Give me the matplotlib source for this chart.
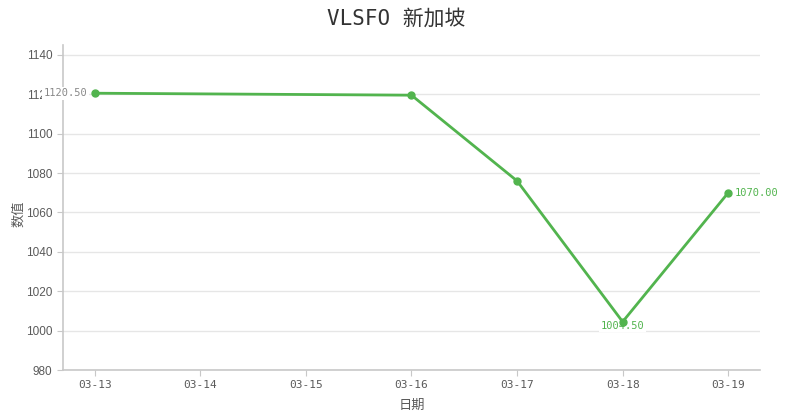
import matplotlib
matplotlib.use("Agg")
from matplotlib import pyplot as plt

# 数据
dates = ["03-13", "03-14", "03-15", "03-16", "03-17", "03-18", "03-19"]
prices = [1120.50, None, None, 1119.50, 1076.00, 1004.50, 1070.00]
title = "VLSFO 新加坡"

mono_cjk = ["DejaVu Sans Mono", "Noto Sans CJK SC"]
green = "#52b44e"
axis_gray = "#c8c8c8"
text_gray = "#5a5a5a"

fig = plt.figure(figsize=(7.92, 4.2), dpi=100)
ax = fig.add_axes([0.0795, 0.119, 0.88, 0.774])

# 只画有值的点，缺失日期直接连线
xs = [i for i, v in enumerate(prices) if v is not None]
ys = [v for v in prices if v is not None]
ax.plot(xs, ys, color=green, linewidth=2, marker="o", markersize=5, zorder=3)

ax.set_xlim(-0.3, 6.3)
ax.set_ylim(980, 1145)
ax.set_xticks(range(len(dates)))
ax.set_xticklabels(dates, family=mono_cjk, fontsize=8, color=text_gray)
ax.set_yticks(range(980, 1141, 20))
ax.set_yticklabels([str(v) for v in range(980, 1141, 20)],
                   family="Liberation Sans", fontsize=8.5, color=text_gray)

ax.grid(axis="y", color="#e6e6e6", linewidth=1)
ax.set_axisbelow(True)
for s in ["top", "right"]:
    ax.spines[s].set_visible(False)
for s in ["left", "bottom"]:
    ax.spines[s].set_color(axis_gray)
    ax.spines[s].set_linewidth(1.2)
ax.tick_params(colors=axis_gray, length=4, labelcolor=text_gray)

ax.set_xlabel("日期", family="Noto Sans CJK SC", fontsize=9.5, color=text_gray, labelpad=6)
ax.set_ylabel("数值", family="Noto Sans CJK SC", fontsize=9.5, color=text_gray)
ax.yaxis.set_label_coords(-0.054, 0.48)

fig.suptitle(title, family=mono_cjk, fontsize=15, color="#333333", y=0.98)

# 数值标注：首、最低、末
box = dict(boxstyle="square,pad=0.15", fc="white", ec="none")
ax.annotate(f"{prices[0]:.2f}", (0, prices[0]), xytext=(-5, 0), textcoords="offset points",
            ha="right", va="center", fontsize=7.5, family=mono_cjk, color="#888888",
            bbox=box, zorder=4)
ax.annotate(f"{prices[5]:.2f}", (5, prices[5]), xytext=(0, -3), textcoords="offset points",
            ha="center", va="center", fontsize=7.5, family=mono_cjk, color=green,
            bbox=box, zorder=2)
ax.annotate(f"{prices[6]:.2f}", (6, prices[6]), xytext=(5, 0), textcoords="offset points",
            ha="left", va="center", fontsize=7.5, family=mono_cjk, color=green,
            bbox=box, zorder=4)

plt.savefig("out.png", dpi=100)
